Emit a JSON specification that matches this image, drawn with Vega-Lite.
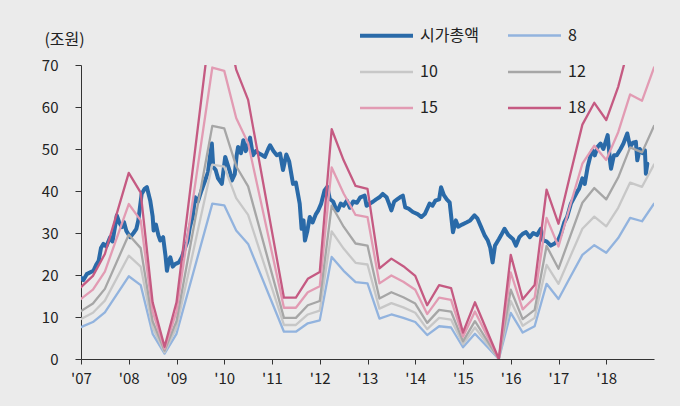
{
  "$schema": "https://vega.github.io/schema/vega-lite/v6.json",
  "width": 573,
  "height": 294,
  "autosize": {"type": "none"},
  "padding": {"left": 81, "top": 65, "right": 26, "bottom": 47},
  "background": "#ebebeb",
  "config": {
    "view": {"stroke": null},
    "font": "Noto Sans CJK KR",
    "axis": {"labelFont": "Noto Sans CJK KR", "titleFont": "Noto Sans CJK KR", "labelColor": "#222", "titleColor": "#222", "domainColor": "#333", "tickColor": "#333", "grid": false}
  },
  "data": {
    "values": [
      {"t":2007.00,"s":"시가총액","v":19.4},{"t":2007.05,"s":"시가총액","v":18.8},{"t":2007.12,"s":"시가총액","v":20.2},{"t":2007.26,"s":"시가총액","v":21.0},{"t":2007.32,"s":"시가총액","v":22.5},{"t":2007.37,"s":"시가총액","v":23.4},{"t":2007.42,"s":"시가총액","v":26.5},{"t":2007.47,"s":"시가총액","v":27.4},{"t":2007.53,"s":"시가총액","v":26.8},{"t":2007.61,"s":"시가총액","v":29.0},{"t":2007.66,"s":"시가총액","v":28.0},{"t":2007.72,"s":"시가총액","v":32.0},{"t":2007.75,"s":"시가총액","v":34.2},{"t":2007.80,"s":"시가총액","v":32.5},{"t":2007.86,"s":"시가총액","v":31.4},{"t":2007.90,"s":"시가총액","v":32.6},{"t":2007.95,"s":"시가총액","v":30.5},{"t":2008.03,"s":"시가총액","v":29.0},{"t":2008.10,"s":"시가총액","v":30.0},{"t":2008.16,"s":"시가총액","v":31.0},{"t":2008.20,"s":"시가총액","v":33.0},{"t":2008.27,"s":"시가총액","v":39.3},{"t":2008.33,"s":"시가총액","v":40.5},{"t":2008.38,"s":"시가총액","v":40.9},{"t":2008.45,"s":"시가총액","v":37.7},{"t":2008.50,"s":"시가총액","v":34.0},{"t":2008.52,"s":"시가총액","v":30.6},{"t":2008.57,"s":"시가총액","v":32.0},{"t":2008.62,"s":"시가총액","v":29.5},{"t":2008.66,"s":"시가총액","v":28.2},{"t":2008.72,"s":"시가총액","v":29.0},{"t":2008.77,"s":"시가총액","v":24.5},{"t":2008.80,"s":"시가총액","v":21.0},{"t":2008.84,"s":"시가총액","v":23.5},{"t":2008.87,"s":"시가총액","v":24.2},{"t":2008.92,"s":"시가총액","v":22.0},{"t":2008.97,"s":"시가총액","v":22.6},{"t":2009.05,"s":"시가총액","v":23.0},{"t":2009.11,"s":"시가총액","v":24.2},{"t":2009.18,"s":"시가총액","v":26.5},{"t":2009.23,"s":"시가총액","v":28.0},{"t":2009.28,"s":"시가총액","v":31.4},{"t":2009.34,"s":"시가총액","v":34.0},{"t":2009.39,"s":"시가총액","v":38.5},{"t":2009.45,"s":"시가총액","v":37.5},{"t":2009.52,"s":"시가총액","v":40.0},{"t":2009.60,"s":"시가총액","v":42.5},{"t":2009.66,"s":"시가총액","v":44.5},{"t":2009.70,"s":"시가총액","v":48.1},{"t":2009.74,"s":"시가총액","v":51.3},{"t":2009.77,"s":"시가총액","v":45.7},{"t":2009.82,"s":"시가총액","v":45.0},{"t":2009.87,"s":"시가총액","v":43.0},{"t":2009.95,"s":"시가총액","v":41.7},{"t":2010.02,"s":"시가총액","v":48.1},{"t":2010.08,"s":"시가총액","v":46.0},{"t":2010.12,"s":"시가총액","v":44.5},{"t":2010.16,"s":"시가총액","v":42.5},{"t":2010.22,"s":"시가총액","v":44.0},{"t":2010.26,"s":"시가총액","v":48.5},{"t":2010.29,"s":"시가총액","v":50.5},{"t":2010.35,"s":"시가총액","v":49.0},{"t":2010.40,"s":"시가총액","v":52.1},{"t":2010.45,"s":"시가총액","v":49.5},{"t":2010.50,"s":"시가총액","v":51.0},{"t":2010.54,"s":"시가총액","v":52.7},{"t":2010.60,"s":"시가총액","v":48.5},{"t":2010.66,"s":"시가총액","v":49.5},{"t":2010.72,"s":"시가총액","v":49.0},{"t":2010.80,"s":"시가총액","v":48.5},{"t":2010.85,"s":"시가총액","v":48.1},{"t":2010.92,"s":"시가총액","v":50.0},{"t":2010.96,"s":"시가총액","v":50.9},{"t":2011.03,"s":"시가총액","v":49.5},{"t":2011.10,"s":"시가총액","v":48.5},{"t":2011.17,"s":"시가총액","v":48.9},{"t":2011.23,"s":"시가총액","v":45.0},{"t":2011.30,"s":"시가총액","v":48.7},{"t":2011.36,"s":"시가총액","v":47.0},{"t":2011.44,"s":"시가총액","v":41.7},{"t":2011.50,"s":"시가총액","v":42.0},{"t":2011.58,"s":"시가총액","v":37.0},{"t":2011.62,"s":"시가총액","v":31.0},{"t":2011.66,"s":"시가총액","v":33.0},{"t":2011.69,"s":"시가총액","v":28.2},{"t":2011.74,"s":"시가총액","v":30.5},{"t":2011.79,"s":"시가총액","v":33.8},{"t":2011.85,"s":"시가총액","v":32.5},{"t":2011.92,"s":"시가총액","v":34.5},{"t":2011.97,"s":"시가총액","v":35.4},{"t":2012.03,"s":"시가총액","v":37.0},{"t":2012.10,"s":"시가총액","v":40.1},{"t":2012.16,"s":"시가총액","v":41.0},{"t":2012.21,"s":"시가총액","v":38.1},{"t":2012.28,"s":"시가총액","v":37.5},{"t":2012.33,"s":"시가총액","v":36.0},{"t":2012.38,"s":"시가총액","v":35.4},{"t":2012.44,"s":"시가총액","v":37.0},{"t":2012.50,"s":"시가총액","v":36.5},{"t":2012.57,"s":"시가총액","v":37.7},{"t":2012.63,"s":"시가총액","v":36.0},{"t":2012.70,"s":"시가총액","v":37.5},{"t":2012.78,"s":"시가총액","v":37.2},{"t":2012.85,"s":"시가총액","v":38.5},{"t":2012.94,"s":"시가총액","v":38.9},{"t":2012.98,"s":"시가총액","v":36.5},{"t":2013.05,"s":"시가총액","v":37.0},{"t":2013.12,"s":"시가총액","v":37.5},{"t":2013.18,"s":"시가총액","v":38.0},{"t":2013.25,"s":"시가총액","v":38.5},{"t":2013.32,"s":"시가총액","v":39.3},{"t":2013.40,"s":"시가총액","v":38.5},{"t":2013.45,"s":"시가총액","v":37.0},{"t":2013.50,"s":"시가총액","v":35.4},{"t":2013.56,"s":"시가총액","v":37.5},{"t":2013.62,"s":"시가총액","v":38.0},{"t":2013.68,"s":"시가총액","v":38.5},{"t":2013.74,"s":"시가총액","v":38.9},{"t":2013.79,"s":"시가총액","v":36.1},{"t":2013.86,"s":"시가총액","v":35.8},{"t":2013.95,"s":"시가총액","v":35.0},{"t":2014.05,"s":"시가총액","v":34.5},{"t":2014.13,"s":"시가총액","v":33.8},{"t":2014.20,"s":"시가총액","v":34.5},{"t":2014.26,"s":"시가총액","v":36.0},{"t":2014.30,"s":"시가총액","v":37.0},{"t":2014.36,"s":"시가총액","v":36.5},{"t":2014.42,"s":"시가총액","v":37.7},{"t":2014.50,"s":"시가총액","v":38.0},{"t":2014.54,"s":"시가총액","v":40.9},{"t":2014.60,"s":"시가총액","v":39.0},{"t":2014.66,"s":"시가총액","v":38.0},{"t":2014.72,"s":"시가총액","v":37.3},{"t":2014.79,"s":"시가총액","v":30.2},{"t":2014.85,"s":"시가총액","v":33.0},{"t":2014.90,"s":"시가총액","v":31.5},{"t":2014.98,"s":"시가총액","v":32.0},{"t":2015.07,"s":"시가총액","v":32.5},{"t":2015.15,"s":"시가총액","v":33.0},{"t":2015.24,"s":"시가총액","v":34.2},{"t":2015.30,"s":"시가총액","v":33.5},{"t":2015.38,"s":"시가총액","v":31.4},{"t":2015.45,"s":"시가총액","v":29.5},{"t":2015.52,"s":"시가총액","v":28.2},{"t":2015.57,"s":"시가총액","v":26.5},{"t":2015.62,"s":"시가총액","v":23.0},{"t":2015.67,"s":"시가총액","v":27.0},{"t":2015.75,"s":"시가총액","v":28.5},{"t":2015.80,"s":"시가총액","v":29.5},{"t":2015.87,"s":"시가총액","v":31.0},{"t":2015.95,"s":"시가총액","v":29.5},{"t":2016.05,"s":"시가총액","v":28.5},{"t":2016.11,"s":"시가총액","v":27.0},{"t":2016.18,"s":"시가총액","v":29.0},{"t":2016.25,"s":"시가총액","v":29.8},{"t":2016.32,"s":"시가총액","v":30.2},{"t":2016.40,"s":"시가총액","v":29.0},{"t":2016.47,"s":"시가총액","v":30.0},{"t":2016.55,"s":"시가총액","v":29.5},{"t":2016.63,"s":"시가총액","v":31.0},{"t":2016.68,"s":"시가총액","v":28.2},{"t":2016.75,"s":"시가총액","v":28.0},{"t":2016.84,"s":"시가총액","v":27.0},{"t":2016.92,"s":"시가총액","v":27.5},{"t":2017.00,"s":"시가총액","v":28.5},{"t":2017.05,"s":"시가총액","v":29.8},{"t":2017.12,"s":"시가총액","v":32.5},{"t":2017.18,"s":"시가총액","v":33.8},{"t":2017.26,"s":"시가총액","v":37.0},{"t":2017.33,"s":"시가총액","v":38.5},{"t":2017.40,"s":"시가총액","v":40.0},{"t":2017.43,"s":"시가총액","v":40.5},{"t":2017.50,"s":"시가총액","v":43.0},{"t":2017.55,"s":"시가총액","v":41.7},{"t":2017.61,"s":"시가총액","v":45.7},{"t":2017.66,"s":"시가총액","v":48.0},{"t":2017.71,"s":"시가총액","v":49.7},{"t":2017.76,"s":"시가총액","v":48.5},{"t":2017.82,"s":"시가총액","v":50.5},{"t":2017.88,"s":"시가총액","v":51.3},{"t":2017.94,"s":"시가총액","v":50.0},{"t":2018.03,"s":"시가총액","v":53.3},{"t":2018.08,"s":"시가총액","v":47.0},{"t":2018.10,"s":"시가총액","v":45.3},{"t":2018.16,"s":"시가총액","v":48.5},{"t":2018.22,"s":"시가총액","v":48.5},{"t":2018.30,"s":"시가총액","v":50.0},{"t":2018.36,"s":"시가총액","v":51.3},{"t":2018.44,"s":"시가총액","v":53.7},{"t":2018.50,"s":"시가총액","v":50.5},{"t":2018.56,"s":"시가총액","v":51.5},{"t":2018.62,"s":"시가총액","v":51.7},{"t":2018.65,"s":"시가총액","v":47.3},{"t":2018.70,"s":"시가총액","v":50.0},{"t":2018.76,"s":"시가총액","v":49.0},{"t":2018.81,"s":"시가총액","v":49.7},{"t":2018.83,"s":"시가총액","v":44.1},{"t":2018.86,"s":"시가총액","v":46.5},

      {"t":2007.00,"s":"8","v":7.6},{"t":2007.25,"s":"8","v":8.8},{"t":2007.50,"s":"8","v":11.1},{"t":2008.00,"s":"8","v":19.7},{"t":2008.25,"s":"8","v":17.6},{"t":2008.50,"s":"8","v":6.0},{"t":2008.75,"s":"8","v":1.3},{"t":2009.00,"s":"8","v":6.0},{"t":2009.75,"s":"8","v":37.0},{"t":2010.00,"s":"8","v":36.6},{"t":2010.25,"s":"8","v":30.6},{"t":2010.50,"s":"8","v":27.4},{"t":2011.25,"s":"8","v":6.5},{"t":2011.50,"s":"8","v":6.5},{"t":2011.75,"s":"8","v":8.5},{"t":2012.00,"s":"8","v":9.2},{"t":2012.25,"s":"8","v":24.3},{"t":2012.50,"s":"8","v":21.0},{"t":2012.75,"s":"8","v":18.3},{"t":2013.00,"s":"8","v":18.0},{"t":2013.25,"s":"8","v":9.6},{"t":2013.50,"s":"8","v":10.6},{"t":2013.75,"s":"8","v":9.8},{"t":2014.00,"s":"8","v":8.8},{"t":2014.25,"s":"8","v":5.7},{"t":2014.50,"s":"8","v":7.8},{"t":2014.75,"s":"8","v":7.5},{"t":2015.00,"s":"8","v":2.8},{"t":2015.25,"s":"8","v":6.0},{"t":2015.75,"s":"8","v":0},{"t":2016.00,"s":"8","v":11.0},{"t":2016.25,"s":"8","v":6.3},{"t":2016.50,"s":"8","v":7.8},{"t":2016.75,"s":"8","v":17.9},{"t":2017.00,"s":"8","v":14.3},{"t":2017.25,"s":"8","v":19.6},{"t":2017.50,"s":"8","v":24.8},{"t":2017.75,"s":"8","v":27.1},{"t":2018.00,"s":"8","v":25.3},{"t":2018.25,"s":"8","v":28.8},{"t":2018.50,"s":"8","v":33.6},{"t":2018.75,"s":"8","v":32.8},{"t":2019.00,"s":"8","v":37.0},

      {"t":2007.00,"s":"10","v":9.5},{"t":2007.25,"s":"10","v":11.0},{"t":2007.50,"s":"10","v":13.9},{"t":2008.00,"s":"10","v":24.6},{"t":2008.25,"s":"10","v":22.0},{"t":2008.50,"s":"10","v":7.5},{"t":2008.75,"s":"10","v":1.6},{"t":2009.00,"s":"10","v":7.5},{"t":2009.75,"s":"10","v":46.3},{"t":2010.00,"s":"10","v":45.8},{"t":2010.25,"s":"10","v":38.3},{"t":2010.50,"s":"10","v":34.3},{"t":2011.25,"s":"10","v":8.1},{"t":2011.50,"s":"10","v":8.1},{"t":2011.75,"s":"10","v":10.6},{"t":2012.00,"s":"10","v":11.5},{"t":2012.25,"s":"10","v":30.4},{"t":2012.50,"s":"10","v":26.3},{"t":2012.75,"s":"10","v":22.9},{"t":2013.00,"s":"10","v":22.5},{"t":2013.25,"s":"10","v":12.0},{"t":2013.50,"s":"10","v":13.3},{"t":2013.75,"s":"10","v":12.3},{"t":2014.00,"s":"10","v":11.0},{"t":2014.25,"s":"10","v":7.1},{"t":2014.50,"s":"10","v":9.8},{"t":2014.75,"s":"10","v":9.4},{"t":2015.00,"s":"10","v":3.5},{"t":2015.25,"s":"10","v":7.5},{"t":2015.75,"s":"10","v":0},{"t":2016.00,"s":"10","v":13.8},{"t":2016.25,"s":"10","v":7.9},{"t":2016.50,"s":"10","v":9.8},{"t":2016.75,"s":"10","v":22.4},{"t":2017.00,"s":"10","v":17.9},{"t":2017.25,"s":"10","v":24.5},{"t":2017.50,"s":"10","v":31.0},{"t":2017.75,"s":"10","v":33.9},{"t":2018.00,"s":"10","v":31.6},{"t":2018.25,"s":"10","v":36.0},{"t":2018.50,"s":"10","v":42.0},{"t":2018.75,"s":"10","v":41.0},{"t":2019.00,"s":"10","v":46.3},

      {"t":2007.00,"s":"12","v":11.4},{"t":2007.25,"s":"12","v":13.2},{"t":2007.50,"s":"12","v":16.7},{"t":2008.00,"s":"12","v":29.6},{"t":2008.25,"s":"12","v":26.4},{"t":2008.50,"s":"12","v":9.0},{"t":2008.75,"s":"12","v":2.0},{"t":2009.00,"s":"12","v":9.0},{"t":2009.75,"s":"12","v":55.5},{"t":2010.00,"s":"12","v":54.9},{"t":2010.25,"s":"12","v":45.9},{"t":2010.50,"s":"12","v":41.1},{"t":2011.25,"s":"12","v":9.8},{"t":2011.50,"s":"12","v":9.8},{"t":2011.75,"s":"12","v":12.8},{"t":2012.00,"s":"12","v":13.8},{"t":2012.25,"s":"12","v":36.5},{"t":2012.50,"s":"12","v":31.5},{"t":2012.75,"s":"12","v":27.5},{"t":2013.00,"s":"12","v":27.0},{"t":2013.25,"s":"12","v":14.4},{"t":2013.50,"s":"12","v":15.9},{"t":2013.75,"s":"12","v":14.7},{"t":2014.00,"s":"12","v":13.2},{"t":2014.25,"s":"12","v":8.6},{"t":2014.50,"s":"12","v":11.7},{"t":2014.75,"s":"12","v":11.3},{"t":2015.00,"s":"12","v":4.2},{"t":2015.25,"s":"12","v":9.0},{"t":2015.75,"s":"12","v":0},{"t":2016.00,"s":"12","v":16.5},{"t":2016.25,"s":"12","v":9.5},{"t":2016.50,"s":"12","v":11.7},{"t":2016.75,"s":"12","v":26.9},{"t":2017.00,"s":"12","v":21.5},{"t":2017.25,"s":"12","v":29.4},{"t":2017.50,"s":"12","v":37.2},{"t":2017.75,"s":"12","v":40.7},{"t":2018.00,"s":"12","v":38.0},{"t":2018.25,"s":"12","v":43.2},{"t":2018.50,"s":"12","v":50.4},{"t":2018.75,"s":"12","v":49.2},{"t":2019.00,"s":"12","v":55.5},

      {"t":2007.00,"s":"15","v":14.3},{"t":2007.25,"s":"15","v":16.5},{"t":2007.50,"s":"15","v":20.8},{"t":2008.00,"s":"15","v":36.9},{"t":2008.25,"s":"15","v":33.0},{"t":2008.50,"s":"15","v":11.3},{"t":2008.75,"s":"15","v":2.4},{"t":2009.00,"s":"15","v":11.3},{"t":2009.75,"s":"15","v":69.4},{"t":2010.00,"s":"15","v":68.6},{"t":2010.25,"s":"15","v":57.4},{"t":2010.50,"s":"15","v":51.4},{"t":2011.25,"s":"15","v":12.2},{"t":2011.50,"s":"15","v":12.2},{"t":2011.75,"s":"15","v":15.9},{"t":2012.00,"s":"15","v":17.3},{"t":2012.25,"s":"15","v":45.6},{"t":2012.50,"s":"15","v":39.4},{"t":2012.75,"s":"15","v":34.3},{"t":2013.00,"s":"15","v":33.8},{"t":2013.25,"s":"15","v":18.0},{"t":2013.50,"s":"15","v":19.9},{"t":2013.75,"s":"15","v":18.4},{"t":2014.00,"s":"15","v":16.5},{"t":2014.25,"s":"15","v":10.7},{"t":2014.50,"s":"15","v":14.6},{"t":2014.75,"s":"15","v":14.1},{"t":2015.00,"s":"15","v":5.3},{"t":2015.25,"s":"15","v":11.3},{"t":2015.75,"s":"15","v":0},{"t":2016.00,"s":"15","v":20.6},{"t":2016.25,"s":"15","v":11.8},{"t":2016.50,"s":"15","v":14.6},{"t":2016.75,"s":"15","v":33.6},{"t":2017.00,"s":"15","v":26.8},{"t":2017.25,"s":"15","v":36.8},{"t":2017.50,"s":"15","v":46.5},{"t":2017.75,"s":"15","v":50.8},{"t":2018.00,"s":"15","v":47.4},{"t":2018.25,"s":"15","v":54.0},{"t":2018.50,"s":"15","v":63.0},{"t":2018.75,"s":"15","v":61.5},{"t":2019.00,"s":"15","v":69.4},

      {"t":2007.00,"s":"18","v":17.1},{"t":2007.25,"s":"18","v":19.8},{"t":2007.50,"s":"18","v":25.0},{"t":2008.00,"s":"18","v":44.3},{"t":2008.25,"s":"18","v":39.6},{"t":2008.50,"s":"18","v":13.5},{"t":2008.75,"s":"18","v":2.9},{"t":2009.00,"s":"18","v":13.5},{"t":2009.75,"s":"18","v":83.3},{"t":2010.00,"s":"18","v":82.4},{"t":2010.25,"s":"18","v":68.9},{"t":2010.50,"s":"18","v":61.7},{"t":2011.25,"s":"18","v":14.6},{"t":2011.50,"s":"18","v":14.6},{"t":2011.75,"s":"18","v":19.1},{"t":2012.00,"s":"18","v":20.7},{"t":2012.25,"s":"18","v":54.7},{"t":2012.50,"s":"18","v":47.3},{"t":2012.75,"s":"18","v":41.2},{"t":2013.00,"s":"18","v":40.5},{"t":2013.25,"s":"18","v":21.6},{"t":2013.50,"s":"18","v":23.9},{"t":2013.75,"s":"18","v":22.1},{"t":2014.00,"s":"18","v":19.8},{"t":2014.25,"s":"18","v":12.8},{"t":2014.50,"s":"18","v":17.6},{"t":2014.75,"s":"18","v":16.9},{"t":2015.00,"s":"18","v":6.3},{"t":2015.25,"s":"18","v":13.5},{"t":2015.75,"s":"18","v":0},{"t":2016.00,"s":"18","v":24.8},{"t":2016.25,"s":"18","v":14.2},{"t":2016.50,"s":"18","v":17.6},{"t":2016.75,"s":"18","v":40.3},{"t":2017.00,"s":"18","v":32.2},{"t":2017.25,"s":"18","v":44.1},{"t":2017.50,"s":"18","v":55.8},{"t":2017.75,"s":"18","v":61.0},{"t":2018.00,"s":"18","v":56.9},{"t":2018.25,"s":"18","v":64.8},{"t":2018.50,"s":"18","v":75.6},{"t":2018.75,"s":"18","v":73.8},{"t":2019.00,"s":"18","v":83.3}
    ]
  },
  "mark": {"type": "line", "clip": true, "strokeJoin": "round", "strokeCap": "round"},
  "encoding": {
    "x": {
      "field": "t", "type": "quantitative",
      "scale": {"domain": [2007, 2019], "nice": false, "zero": false},
      "axis": {
        "title": null, "values": [2007,2008,2009,2010,2011,2012,2013,2014,2015,2016,2017,2018],
        "labelExpr": "\"'\" + slice(toString(datum.value), 2)",
        "labelFontSize": 15, "tickSize": 5, "labelPadding": 7, "labelFlush": false
      }
    },
    "y": {
      "field": "v", "type": "quantitative",
      "scale": {"domain": [0, 70], "nice": false},
      "axis": {
        "title": "(조원)", "titleAngle": 0, "titleX": -17, "titleY": -26,
        "titleAlign": "center", "titleBaseline": "middle", "titleFontSize": 16, "titleFontWeight": "normal",
        "values": [0,10,20,30,40,50,60,70], "labelFontSize": 15, "tickSize": 6, "labelPadding": 17
      }
    },
    "color": {
      "field": "s", "type": "nominal",
      "scale": {"domain": ["시가총액","8","10","12","15","18"], "range": ["#2a6aa8","#92b3de","#c7c7c7","#a6a6a6","#e29bb3","#c55a82"]},
      "legend": {
        "title": null, "orient": "none", "legendX": 277, "legendY": -58, "columns": 2, "direction": "horizontal",
        "symbolType": "stroke", "symbolSize": 2809, "symbolStrokeWidth": 3,
        "labelFontSize": 16, "labelFont": "Noto Sans CJK KR", "labelColor": "#222",
        "labelOffset": 5, "columnPadding": 24, "rowPadding": -26, "padding": 0
      }
    },
    "strokeWidth": {
      "field": "s", "type": "nominal",
      "scale": {"type": "ordinal", "domain": ["시가총액","8","10","12","15","18"], "range": [4, 2.3, 2.3, 2.3, 2.3, 2.3]},
      "legend": {
        "title": null, "orient": "none", "legendX": 277, "legendY": -58, "columns": 2, "direction": "horizontal",
        "symbolType": "stroke", "symbolSize": 2809,
        "labelFontSize": 16, "labelFont": "Noto Sans CJK KR", "labelColor": "#222",
        "labelOffset": 5, "columnPadding": 24, "rowPadding": -26, "padding": 0
      }
    }
  }
}
